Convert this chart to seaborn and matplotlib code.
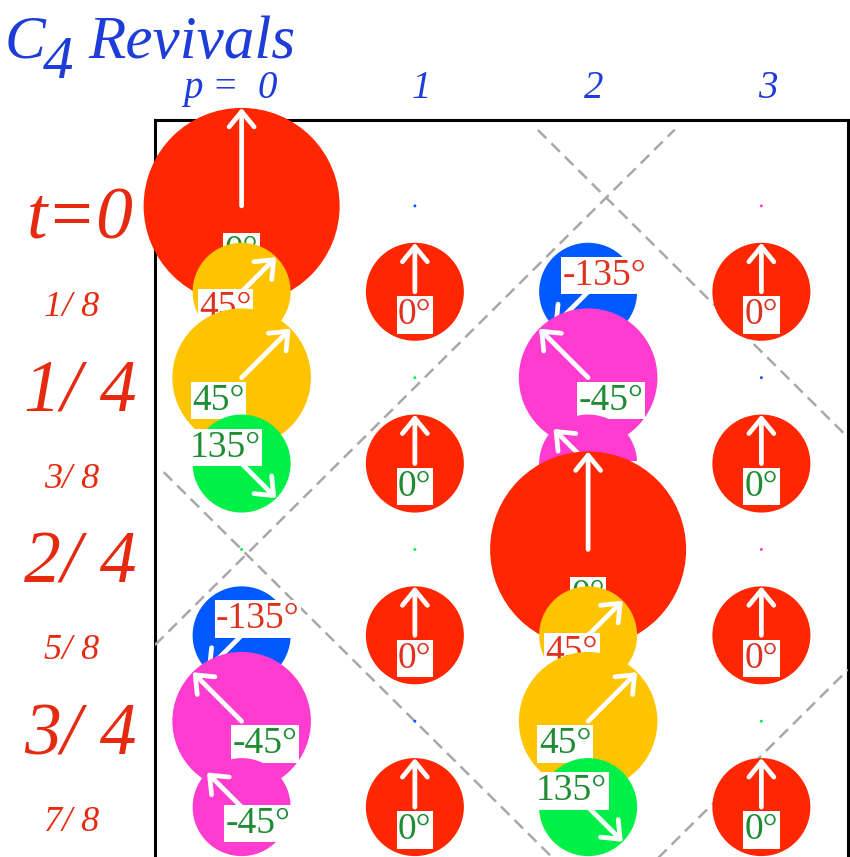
import numpy as np
import pandas as pd
import matplotlib
matplotlib.use("Agg")
import matplotlib.pyplot as plt
import seaborn as sns

# C4 revivals: phasor picture of the wave packet at fractional times

# rows (time) and columns (site p)
t_labels = ["t=0", "1/ 8", "1/ 4", "3/ 8", "2/ 4", "5/ 8", "3/ 4", "7/ 8"]
t_vals = [0, 1/8, 2/8, 3/8, 4/8, 5/8, 6/8, 7/8]
p_vals = [0, 1, 2, 3]
p_labels = ["p =  0", "1", "2", "3"]

# amplitude of each component, one list per row (p = 0..3)
amps = [
    [1.0, 0.015, 0.0, 0.015],
    [0.5, 0.5, 0.5, 0.5],
    [0.707, 0.015, 0.707, 0.015],
    [0.5, 0.5, 0.5, 0.5],
    [0.015, 0.015, 1.0, 0.015],
    [0.5, 0.5, 0.5, 0.5],
    [0.707, 0.015, 0.707, 0.015],
    [0.5, 0.5, 0.5, 0.5],
]
# phase in degrees
phases = [
    [0, -135, 0, -45],
    [45, 0, -135, 0],
    [45, 135, -45, -135],
    [135, 0, -45, 0],
    [135, 135, 0, -45],
    [-135, 0, 45, 0],
    [-45, -135, 45, 135],
    [-45, 0, 135, 0],
]
# colour of the phase labels per row
label_colors = ["#1e8c32", "#e0301e", "#1e8c32", "#1e8c32",
                "#1e8c32", "#e0301e", "#1e8c32", "#1e8c32"]

# dashed guide lines t = c + s*p/4
guide_c = [-0.538, 0.50, 0.514, 1.55]
guide_s = [1, 1, -1, -1]
guide_p = [(1.71, 3.5), (-0.45, 2.1), (-0.5, 2.5), (2.1, 3.5)]

phase_colors = {0: "#ff2600", 45: "#ffc400", 135: "#00f048",
                -135: "#0059ff", -45: "#ff3ccf"}

sns.set_style("white")
plt.rcParams["font.family"] = ["Liberation Serif", "DejaVu Serif"]

W, H = 850, 857
fig = plt.figure(figsize=(W / 100, H / 100), dpi=100)
left, right, top, bottom = 155, 848, 120, 893
ax = fig.add_axes([left / W, 1 - bottom / H, (right - left) / W, (bottom - top) / H])
ax.set_xlim(-0.5, 3.5)
ax.set_ylim(1.0, -0.125)
px_p = (right - left) / 4
px_t = (bottom - top) / 1.125
R = 98  # pixel radius of a unit amplitude

for sp in ax.spines.values():
    sp.set_linewidth(2.2)
    sp.set_color("black")
    sp.set_zorder(0.5)

# guide lines
for c, s, (pa, pb) in zip(guide_c, guide_s, guide_p):
    pp = np.array([pa, pb])
    ax.plot(pp, c + s * pp / 4, color="#a8a8a8", lw=1.8,
            ls=(0, (4.8, 2.8)), zorder=1)

size_map = {a: (2 * R * a * 0.72) ** 2 for a in set(sum(amps, []))}

for k, t in enumerate(t_vals):
    df = pd.DataFrame({"p": p_vals, "t": t, "amp": amps[k], "phase": phases[k]})
    df = df[df.amp > 0]
    z = 3 + 3 * k
    sns.scatterplot(data=df, x="p", y="t", hue="phase", palette=phase_colors,
                    size="amp", sizes=size_map, linewidth=0, legend=False,
                    ax=ax, zorder=z, clip_on=False)
    for p, amp, ph in zip(df.p, df.amp, df.phase):
        if amp < 0.1:
            continue
        r = R * amp
        a = np.deg2rad(ph)
        ux, uy = np.sin(a), np.cos(a)
        ax.annotate("", xy=(p, t), xytext=(ux * r, uy * r),
                    textcoords="offset pixels", annotation_clip=False,
                    arrowprops=dict(arrowstyle="<-,head_length=0.55,head_width=0.45",
                                    color="white", lw=3.4, mutation_scale=20,
                                    shrinkA=0, shrinkB=0),
                    zorder=z + 1)
        ax.annotate(f"{int(ph)}°", xy=(p, t),
                    xytext=(-ux * 0.47 * r, -uy * 0.47 * r),
                    textcoords="offset pixels", ha="center", va="center",
                    fontsize=27, color=label_colors[k], annotation_clip=False,
                    bbox=dict(boxstyle="square,pad=0.04", fc="white", ec="none"),
                    zorder=z + 2)

ax.set_xlabel("")
ax.set_ylabel("")
ax.set_xticks([])
ax.set_yticks([])

# row labels on the left
for k, (t, lab) in enumerate(zip(t_vals, t_labels)):
    y = top + px_t * (t + 0.125)
    if k % 2 == 0:
        fig.text(80 / W, 1 - (y + 33) / H, lab, fontsize=53, style="italic",
                 color="#e52a10", ha="center", va="baseline")
    else:
        fig.text(72 / W, 1 - (y + 24) / H, lab, fontsize=26, style="italic",
                 color="#e52a10", ha="center", va="baseline")

# column labels on top
for p, lab in zip(p_vals, p_labels):
    x = left + px_p * (p + 0.5) + (-11 if p == 0 else 6)
    fig.text(x / W, 1 - 98 / H, lab, fontsize=28, style="italic",
             color="#1e3cd8", ha="center", va="baseline")

# title
blue = "#1e3cd8"
fig.text(5 / W, 1 - 58 / H, "C", fontsize=44, style="italic", color=blue, va="baseline")
fig.text(43 / W, 1 - 78 / H, "4", fontsize=44, style="italic", color=blue, va="baseline")
fig.text(88 / W, 1 - 58 / H, "Revivals", fontsize=44, style="italic", color=blue, va="baseline")

fig.savefig("out.png", dpi=100)
